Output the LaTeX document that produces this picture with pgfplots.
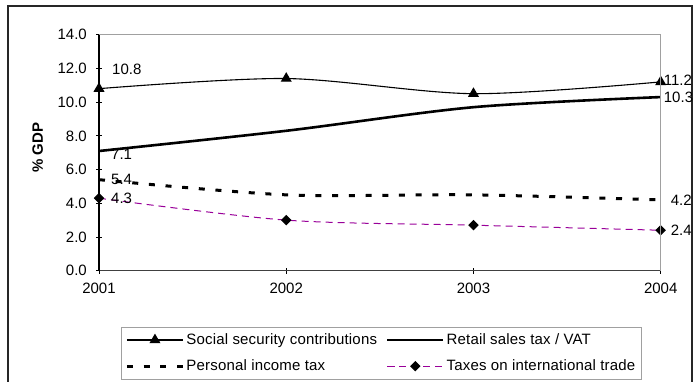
\documentclass[border=0pt]{standalone}
\usepackage{fontspec}
\setmainfont{Liberation Sans}
\newfontfamily\legendfont[LetterSpace=1.2]{Liberation Sans}
\usepackage{pgfplots}
\pgfplotsset{compat=1.18}
\definecolor{tradepurple}{HTML}{990099}
\definecolor{boxgray}{HTML}{A0A0A0}

\begin{document}
\fontsize{15}{17.5}\selectfont
\begin{tikzpicture}[x=1pt,y=1pt]
\path[use as bounding box] (0,0) rectangle (696,381);
% chart frame
\draw[line width=1.3pt, black!85] (8,-2) -- (8,375) -- (692,375) -- (692,-2);
\begin{axis}[
  at={(99pt,110.3pt)}, anchor=south west,
  scale only axis, width=561.7pt, height=236pt,
  xmin=0, xmax=3, ymin=0, ymax=14,
  xtick={0,1,2,3}, xticklabels={2001,2002,2003,2004},
  ytick={0,2,...,14},
  axis x line*=bottom, axis y line*=left,
  x axis line style={line width=1.2pt, black!75},
  y axis line style={line width=1.2pt, black},
  tick align=center, major tick length=6pt,
  tick style={line width=0.9pt, black},
  /pgf/number format/assume math mode=true,
  yticklabel style={/pgf/number format/.cd, fixed, fixed zerofill, precision=1, /tikz/.cd, xshift=-4pt},
  xticklabel style={yshift=-4pt},
  every axis y label/.style={at={(axis description cs:-0.109,0.522)}, rotate=90, anchor=center, font=\bfseries},
  ylabel={\% GDP},
  clip=false,
  legend columns=2,
  legend cell align=left,
  legend style={at={(axis description cs:0.0392,-0.2365)}, anchor=north west,
    draw=boxgray, line width=0.9pt, row sep=9pt, inner xsep=4pt, inner ysep=4.5pt,
    font=\legendfont,
    /tikz/every even column/.append style={column sep=7pt}},
  legend image code/.code={\draw[mark repeat=2,mark phase=2,#1] plot coordinates {(0pt,0pt) (28pt,0pt) (56pt,0pt)};},
  label node/.style={forget plot, draw=none, mark=none, nodes near coords, point meta=y,
    nodes near coords={\pgfmathprintnumber[fixed,fixed zerofill,precision=1,assume math mode=true]{\pgfplotspointmeta}}},
  after end axis/.code={\draw[boxgray, line width=1pt] (rel axis cs:0,1) -- (rel axis cs:1,1) -- (rel axis cs:1,0);},
]
% Social security contributions
\addplot[smooth, black, line width=1.1pt, mark=triangle*, mark size=5.3pt, mark options={fill=black}]
  coordinates {(0,10.8) (1,11.4) (2,10.5) (3,11.2)};
\addlegendentry{Social security contributions}
% Retail sales tax / VAT
\addplot[smooth, black, line width=2.6pt]
  coordinates {(0,7.1) (1,8.3) (2,9.7) (3,10.3)};
\addlegendentry{Retail sales tax / VAT}
% Personal income tax
\addplot[smooth, black, line width=3pt, dash pattern=on 6pt off 10.7pt]
  coordinates {(0,5.4) (1,4.5) (2,4.5) (3,4.2)};
\addlegendentry{Personal income tax}
% Taxes on international trade
\addplot[smooth, tradepurple, line width=1pt, dash pattern=on 7pt off 5pt,
  mark=square*, mark size=3.2pt, mark options={solid, fill=black, draw=black, rotate=45}]
  coordinates {(0,4.3) (1,3.0) (2,2.7) (3,2.4)};
\addlegendentry{Taxes on international trade}

% value labels at both ends
\addplot[label node, nodes near coords style={anchor=west, xshift=8pt, yshift=19pt}] coordinates {(0,10.8)};
\addplot[label node, nodes near coords style={anchor=west, xshift=7pt, yshift=-3pt}] coordinates {(0,7.1)};
\addplot[label node, nodes near coords style={anchor=west, xshift=7pt, yshift=0.5pt}] coordinates {(0,5.4)};
\addplot[label node, nodes near coords style={anchor=west, xshift=7pt, yshift=0pt}] coordinates {(0,4.3)};
\addplot[label node, nodes near coords style={anchor=west, xshift=-2pt, yshift=2pt}] coordinates {(3,11.2)};
\addplot[label node, nodes near coords style={anchor=west, xshift=-2pt, yshift=0pt}] coordinates {(3,10.3)};
\addplot[label node, nodes near coords style={anchor=west, xshift=5pt, yshift=0pt}] coordinates {(3,4.2)};
\addplot[label node, nodes near coords style={anchor=west, xshift=5pt, yshift=0pt}] coordinates {(3,2.4)};
\end{axis}
\end{tikzpicture}
\end{document}
